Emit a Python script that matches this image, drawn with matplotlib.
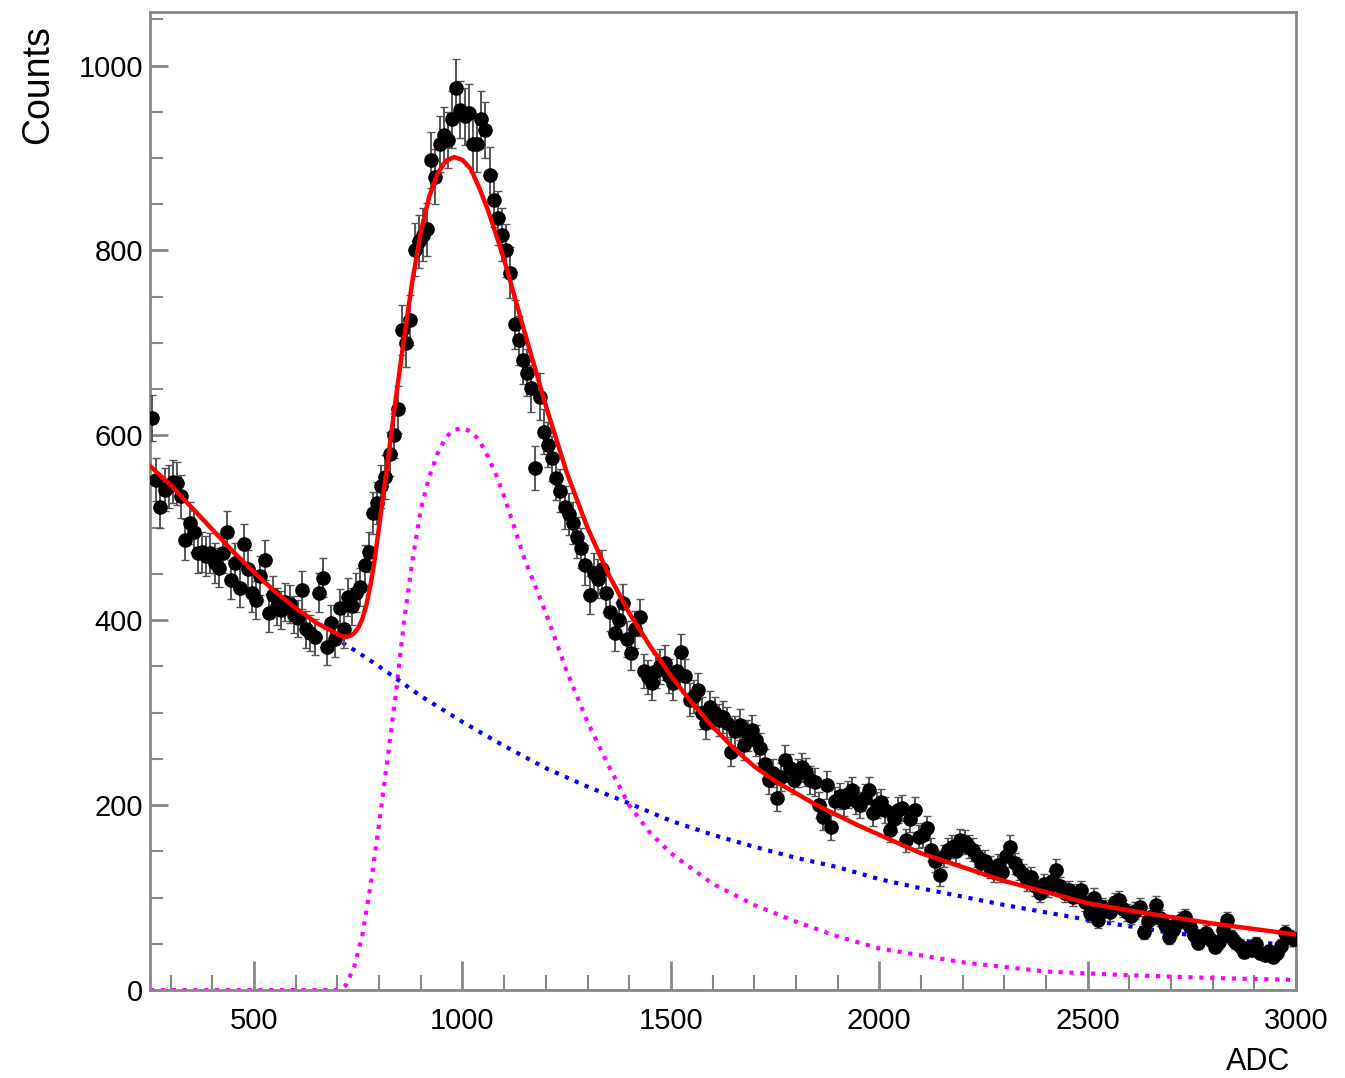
import numpy as np
import matplotlib.pyplot as plt
from matplotlib.ticker import MultipleLocator

plt.rcParams['font.family'] = ['Liberation Sans', 'DejaVu Sans']

# ===============================
# Histogram (10 ADC bins, centres 255 ... 2995)
# ===============================
bin_lo = 250
bin_width = 10
counts = [
    619, 552, 523, 541, 545, 550, 548, 534, 487, 505,
    496, 473, 474, 470, 473, 462, 457, 473, 496, 444,
    462, 435, 482, 455, 430, 422, 448, 465, 408, 427,
    415, 411, 420, 418, 406, 402, 433, 390, 386, 382,
    430, 446, 371, 397, 380, 413, 390, 425, 415, 430,
    436, 460, 474, 516, 527, 545, 555, 580, 600, 628,
    714, 700, 725, 801, 810, 817, 823, 898, 880, 915,
    925, 920, 942, 976, 952, 945, 949, 915, 915, 942,
    930, 882, 855, 835, 817, 800, 776, 720, 703, 682,
    668, 651, 565, 642, 604, 590, 575, 554, 540, 522,
    515, 505, 490, 478, 460, 427, 451, 445, 455, 430,
    409, 386, 400, 419, 380, 365, 390, 403, 345, 339,
    332, 345, 350, 354, 340, 332, 345, 366, 340, 314,
    318, 325, 300, 289, 306, 300, 292, 295, 289, 258,
    280, 287, 265, 275, 281, 270, 262, 245, 227, 235,
    208, 230, 249, 240, 227, 235, 241, 236, 227, 225,
    200, 187, 222, 176, 205, 210, 203, 212, 216, 205,
    200, 208, 216, 191, 200, 203, 195, 173, 185, 195,
    197, 162, 185, 195, 166, 168, 175, 152, 140, 124,
    145, 152, 155, 150, 162, 160, 155, 152, 145, 137,
    140, 133, 128, 135, 128, 145, 155, 137, 130, 125,
    118, 122, 112, 105, 115, 111, 118, 130, 112, 105,
    108, 101, 104, 108, 95, 83, 100, 76, 90, 88,
    84, 95, 97, 88, 84, 80, 86, 90, 63, 75,
    80, 92, 78, 70, 57, 65, 72, 76, 79, 68,
    60, 51, 58, 62, 55, 47, 52, 65, 76, 57,
    52, 48, 41, 45, 43, 50, 40, 38, 42, 36,
    40, 48, 62, 57, 55,
]

# ===============================
# Fit curves
# ===============================
fit_x = [250, 300, 350, 400, 450, 500, 550, 600, 650, 680, 700, 710, 720,
         730, 740, 750, 760, 770, 780, 790, 800, 820, 840, 860, 880, 900,
         920, 940, 960, 980, 1000, 1020, 1040, 1060, 1080, 1100, 1150, 1200,
         1250, 1300, 1350, 1400, 1450, 1500, 1550, 1600, 1650, 1700, 1750,
         1800, 1850, 1900, 1950, 2000, 2100, 2200, 2300, 2400, 2500, 2600,
         2700, 2800, 2900, 3000]
fit_y = [567, 546, 522, 498, 474, 452, 431, 413, 397, 390, 385, 383, 382,
         383, 386, 392, 402, 418, 440, 468, 502, 570, 640, 706, 768, 820,
         858, 883, 897, 901, 898, 888, 868, 845, 818, 790, 710, 632,
         560, 500, 450, 408, 372, 340, 311, 285, 262, 242, 226,
         213, 200, 189, 178, 168, 148, 133, 118, 106, 94, 86,
         79, 72, 66, 60]

bkg_x = [690, 750, 800, 900, 1000, 1100, 1200, 1300, 1400, 1500, 1600, 1700,
         1800, 1900, 2000, 2100, 2200, 2300, 2400, 2500, 2600, 2700, 2800,
         2900, 3000]
bkg_y = [382, 365, 350, 318, 290, 264, 240, 220, 202, 183, 168, 155,
         143, 133, 120, 110, 101, 92, 84, 76, 69, 62, 57, 52, 48]

sig_x = [250, 700, 720, 740, 760, 780, 800, 820, 840, 860, 880, 900, 920,
         940, 960, 980, 1000, 1020, 1040, 1060, 1080, 1100, 1150, 1200, 1250,
         1300, 1350, 1400, 1450, 1500, 1600, 1700, 1800, 1900, 2000, 2200,
         2400, 2600, 2800, 3000]
sig_y = [0, 0, 5, 25, 60, 115, 180, 250, 320, 400, 465, 520, 555,
         580, 598, 606, 608, 604, 595, 578, 558, 534, 465, 408, 345,
         290, 243, 200, 170, 148, 115, 92, 74, 58, 45, 30,
         20, 16, 13, 11]

counts = np.array(counts, dtype=float)
centres = bin_lo + bin_width * (np.arange(len(counts)) + 0.5)
errors = np.sqrt(counts)

fig = plt.figure(figsize=(13.45, 10.78), dpi=100)
ax = fig.add_axes([0.1115, 0.0816, 0.852, 0.9073])

ax.errorbar(centres, counts, yerr=errors, xerr=bin_width / 2, fmt='o',
            color='black', ecolor='#555555', elinewidth=1.4, capsize=3,
            markersize=9.5, zorder=3)

ax.plot(sig_x, sig_y, color='#ff00ff', lw=3, ls=(0, (1, 1.6)), zorder=2)
ax.plot(bkg_x, bkg_y, color='#0000ff', lw=3, ls=(0, (1, 1.6)), zorder=2)
ax.plot(fit_x, fit_y, color='#ff0000', lw=3.2, zorder=4)

ax.set_xlim(250, 3000)
ax.set_ylim(0, 1058)

ax.xaxis.set_major_locator(MultipleLocator(500))
ax.xaxis.set_minor_locator(MultipleLocator(100))
ax.yaxis.set_major_locator(MultipleLocator(200))
ax.yaxis.set_minor_locator(MultipleLocator(50))

ax.tick_params(axis='x', which='major', direction='in', length=21, width=2,
               color='#888888', labelsize=21, pad=12, top=False)
ax.tick_params(axis='x', which='minor', direction='in', length=11, width=1.5,
               color='#888888', top=False)
ax.tick_params(axis='y', which='major', direction='in', length=13, width=2,
               color='#888888', labelsize=21, pad=5, right=False)
ax.tick_params(axis='y', which='minor', direction='in', length=9, width=1.5,
               color='#888888', right=False)

for side in ax.spines.values():
    side.set_color('#888888')
    side.set_linewidth(2)

fig.text(0.028, 0.977, 'Counts', rotation=90, ha='center', va='top',
         fontsize=27)
fig.text(0.959, 0.015, 'ADC', ha='right', va='center', fontsize=22)

fig.savefig('out.png', dpi=100)
